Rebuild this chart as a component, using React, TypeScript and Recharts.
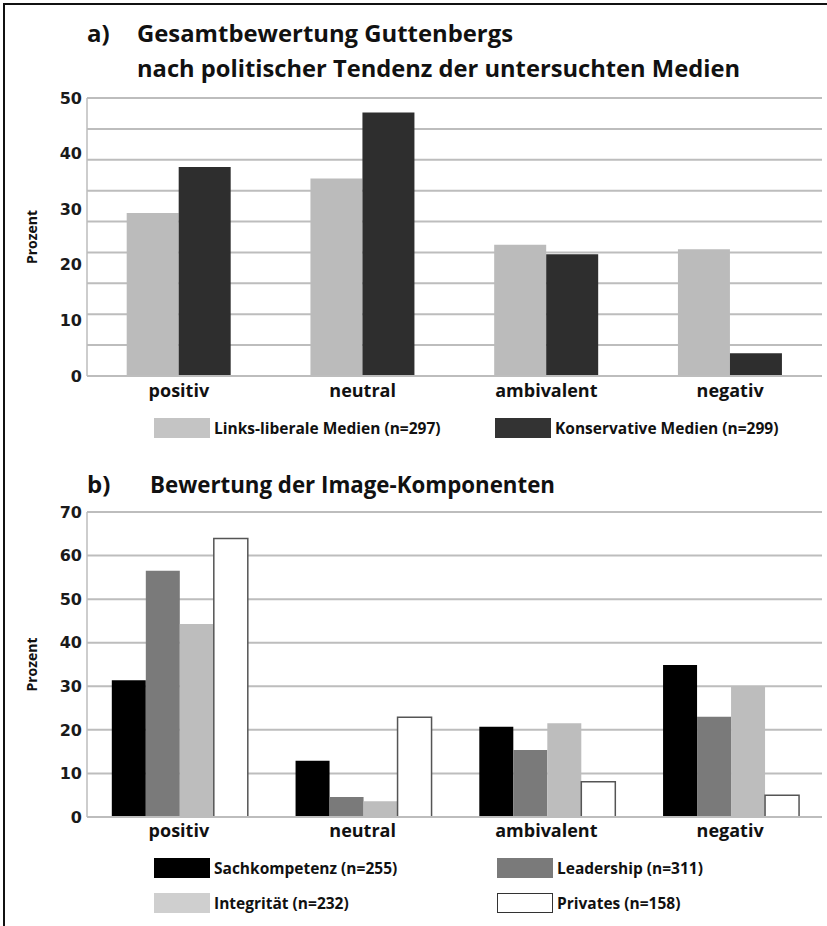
import React from "react"
import { BarChart, Bar, XAxis, YAxis, CartesianGrid } from "recharts"

const categories = ["positiv", "neutral", "ambivalent", "negativ"]

// a) Gesamtbewertung nach politischer Tendenz
const linksLiberal = [29.3, 35.5, 23.6, 22.8]
const konservativ = [37.6, 47.4, 21.9, 4.1]
const ticksA = [0, 10, 20, 30, 40, 50]

// b) Image-Komponenten
const sachkompetenz = [31.4, 12.9, 20.7, 34.9]
const leadership = [56.5, 4.6, 15.4, 23.0]
const integritaet = [44.3, 3.6, 21.5, 30.0]
const privates = [63.9, 22.9, 8.1, 5.0]
const ticksB = [0, 10, 20, 30, 40, 50, 60, 70]

const legendA = [
  { name: "Links-liberale Medien (n=297)", color: "#c4c4c4" },
  { name: "Konservative Medien (n=299)", color: "#333333" },
]
const legendB = [
  { name: "Sachkompetenz (n=255)", color: "#000000" },
  { name: "Leadership (n=311)", color: "#7a7a7a" },
  { name: "Integrität (n=232)", color: "#cfcfcf" },
  { name: "Privates (n=158)", color: "#ffffff" },
]

const dataA = categories.map((c, i) => ({ name: c, links: linksLiberal[i], kons: konservativ[i] }))
const dataB = categories.map((c, i) => ({
  name: c,
  sach: sachkompetenz[i],
  lead: leadership[i],
  integ: integritaet[i],
  priv: privates[i],
}))

// panel a has 9 grid intervals, not aligned with the labels
const gridA = Array.from({ length: 10 }, (_, k) => (k * 50) / 9)

const catTick = { fill: "#111", fontFamily: "Open Sans", fontWeight: 700, fontSize: 18 }
const numTick = { fill: "#1a1a1a", fontFamily: "DejaVu Sans", fontWeight: 700, fontSize: 16 }
const grid = "#bdbdbd"

const yLabel = {
  value: "Prozent",
  angle: -90,
  position: "center" as const,
  dx: -11,
  style: { fontFamily: "Open Sans", fontWeight: 700, fontSize: 14, fill: "#111" },
}

const LegendItem = ({ left, top, name, color }: { left: number; top: number; name: string; color: string }) => (
  <div style={{ position: "absolute", left, top, display: "flex", alignItems: "center" }}>
    <div
      style={{
        width: 56,
        height: 20,
        background: color,
        boxSizing: "border-box",
        border: color === "#ffffff" ? "1.5px solid #333" : "none",
      }}
    />
    <span style={{ marginLeft: 4, fontFamily: "Open Sans", fontWeight: 700, fontSize: 15.5, color: "#111" }}>{name}</span>
  </div>
)

const App = () => {
  const titleFont = { fontFamily: "Open Sans", fontWeight: 700, fontSize: 24, fill: "#111" }
  return (
    <div style={{ position: "absolute", left: 0, top: 0, width: 827, height: 926, background: "#fff", overflow: "hidden" }}>
      <div style={{ position: "absolute", left: 3, top: 3, width: 830, height: 930, borderTop: "2.5px solid #111", borderLeft: "2.5px solid #111" }} />

      <svg width={827} height={926} style={{ position: "absolute", left: 0, top: 0 }}>
        <text x={87} y={42} {...titleFont}>a)</text>
        <text x={137} y={42} textLength={376} lengthAdjust="spacingAndGlyphs" {...titleFont}>
          Gesamtbewertung Guttenbergs
        </text>
        <text x={137} y={77} textLength={603} lengthAdjust="spacingAndGlyphs" {...titleFont}>
          nach politischer Tendenz der untersuchten Medien
        </text>
        <text x={87} y={493} {...titleFont}>b)</text>
        <text x={150} y={493} textLength={405} lengthAdjust="spacingAndGlyphs" {...titleFont}>
          Bewertung der Image-Komponenten
        </text>
      </svg>

      <div style={{ position: "absolute", left: 0, top: 0 }}>
        <BarChart width={827} height={410} data={dataA} margin={{ top: 98, right: 5, bottom: 4, left: 0 }} barCategoryGap="21.6%" barGap={0}>
          <CartesianGrid vertical={false} stroke={grid} strokeWidth={2} horizontalValues={gridA} />
          <XAxis dataKey="name" height={30} tickLine={false} tickSize={0} tickMargin={8} axisLine={{ stroke: grid, strokeWidth: 2 }} tick={catTick} />
          <YAxis width={87} domain={[0, 50]} ticks={ticksA} interval={0} tickLine={false} tickSize={0} tickMargin={5} axisLine={{ stroke: grid, strokeWidth: 1.5 }} tick={numTick} label={yLabel} />
          <Bar dataKey="links" fill="#bbbbbb" isAnimationActive={false} />
          <Bar dataKey="kons" fill="#2e2e2e" isAnimationActive={false} />
        </BarChart>
      </div>

      <div style={{ position: "absolute", left: 0, top: 440 }}>
        <BarChart width={827} height={411} data={dataB} margin={{ top: 72, right: 5, bottom: 4, left: 0 }} barCategoryGap="13.5%" barGap={0}>
          <CartesianGrid vertical={false} stroke={grid} strokeWidth={2} />
          <XAxis dataKey="name" height={30} tickLine={false} tickSize={0} tickMargin={7} axisLine={{ stroke: grid, strokeWidth: 2 }} tick={catTick} />
          <YAxis width={87} domain={[0, 70]} ticks={ticksB} interval={0} tickLine={false} tickSize={0} tickMargin={5} axisLine={{ stroke: grid, strokeWidth: 1.5 }} tick={numTick} label={yLabel} />
          <Bar dataKey="sach" fill="#000000" isAnimationActive={false} />
          <Bar dataKey="lead" fill="#7a7a7a" isAnimationActive={false} />
          <Bar dataKey="integ" fill="#bdbdbd" isAnimationActive={false} />
          <Bar dataKey="priv" fill="#ffffff" stroke="#555" strokeWidth={1.5} isAnimationActive={false} />
        </BarChart>
      </div>

      <LegendItem left={154} top={417} {...legendA[0]} />
      <LegendItem left={495} top={417} {...legendA[1]} />
      <LegendItem left={154} top={857} {...legendB[0]} />
      <LegendItem left={497} top={857} {...legendB[1]} />
      <LegendItem left={154} top={892} {...legendB[2]} />
      <LegendItem left={497} top={892} {...legendB[3]} />
    </div>
  )
}

export default App
